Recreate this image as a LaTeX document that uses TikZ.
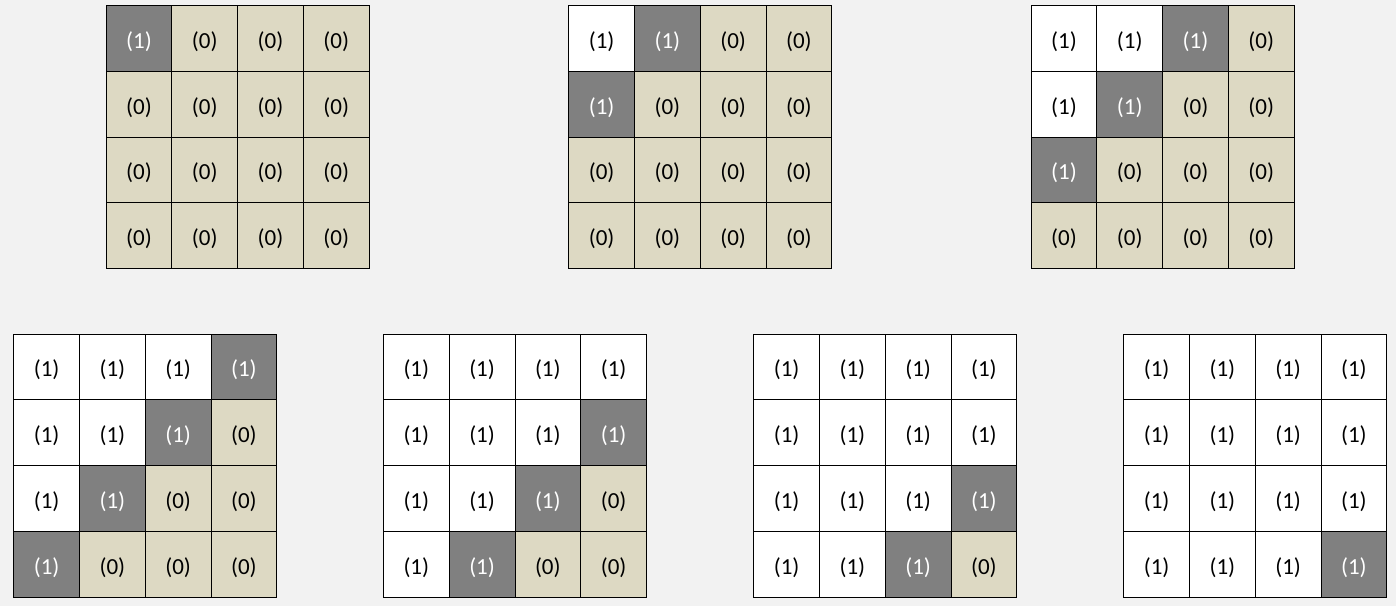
\documentclass[tikz,border=0pt]{standalone}
\usepackage{fontspec}
\setmainfont{Carlito}
\definecolor{bgc}{HTML}{F2F2F2}
\definecolor{tanc}{HTML}{DDD9C3}
\definecolor{grayc}{HTML}{808080}
\tikzset{
  cellbase/.style={draw=black, line width=0.9pt, minimum width=65.75pt, minimum height=65.75pt, inner sep=0pt, anchor=north west, font=\fontsize{23}{26}\selectfont, text height=20pt, text depth=0pt},
  donecell/.style={cellbase, fill=white, text=black},
  curcell/.style={cellbase, fill=grayc, text=white},
  todocell/.style={cellbase, fill=tanc, text=black}
}
\begin{document}
\begin{tikzpicture}[x=1pt,y=-1pt]
\fill[bgc] (0,0) rectangle (1396,606);
\useasboundingbox (0,0) rectangle (1396,606);
\foreach \k/\gx/\gy in {0/105.7/5, 1/568.3/5, 2/1030.7/5, 3/13.3/333.5, 4/383/333.5, 5/753.3/333.5, 6/1123.3/333.5} {
  \foreach \i in {0,...,3} {
    \foreach \j in {0,...,3} {
      \pgfmathtruncatemacro{\s}{\i+\j}
      \ifnum\s<\k
        \node[donecell] (g\k c\i\j) at ({\gx+\j*65.75},{\gy+\i*65.75}) {(1)};
      \else\ifnum\s=\k
        \node[curcell] (g\k c\i\j) at ({\gx+\j*65.75},{\gy+\i*65.75}) {(1)};
      \else
        \node[todocell] (g\k c\i\j) at ({\gx+\j*65.75},{\gy+\i*65.75}) {(0)};
      \fi\fi
    }
  }
}
\end{tikzpicture}
\end{document}
